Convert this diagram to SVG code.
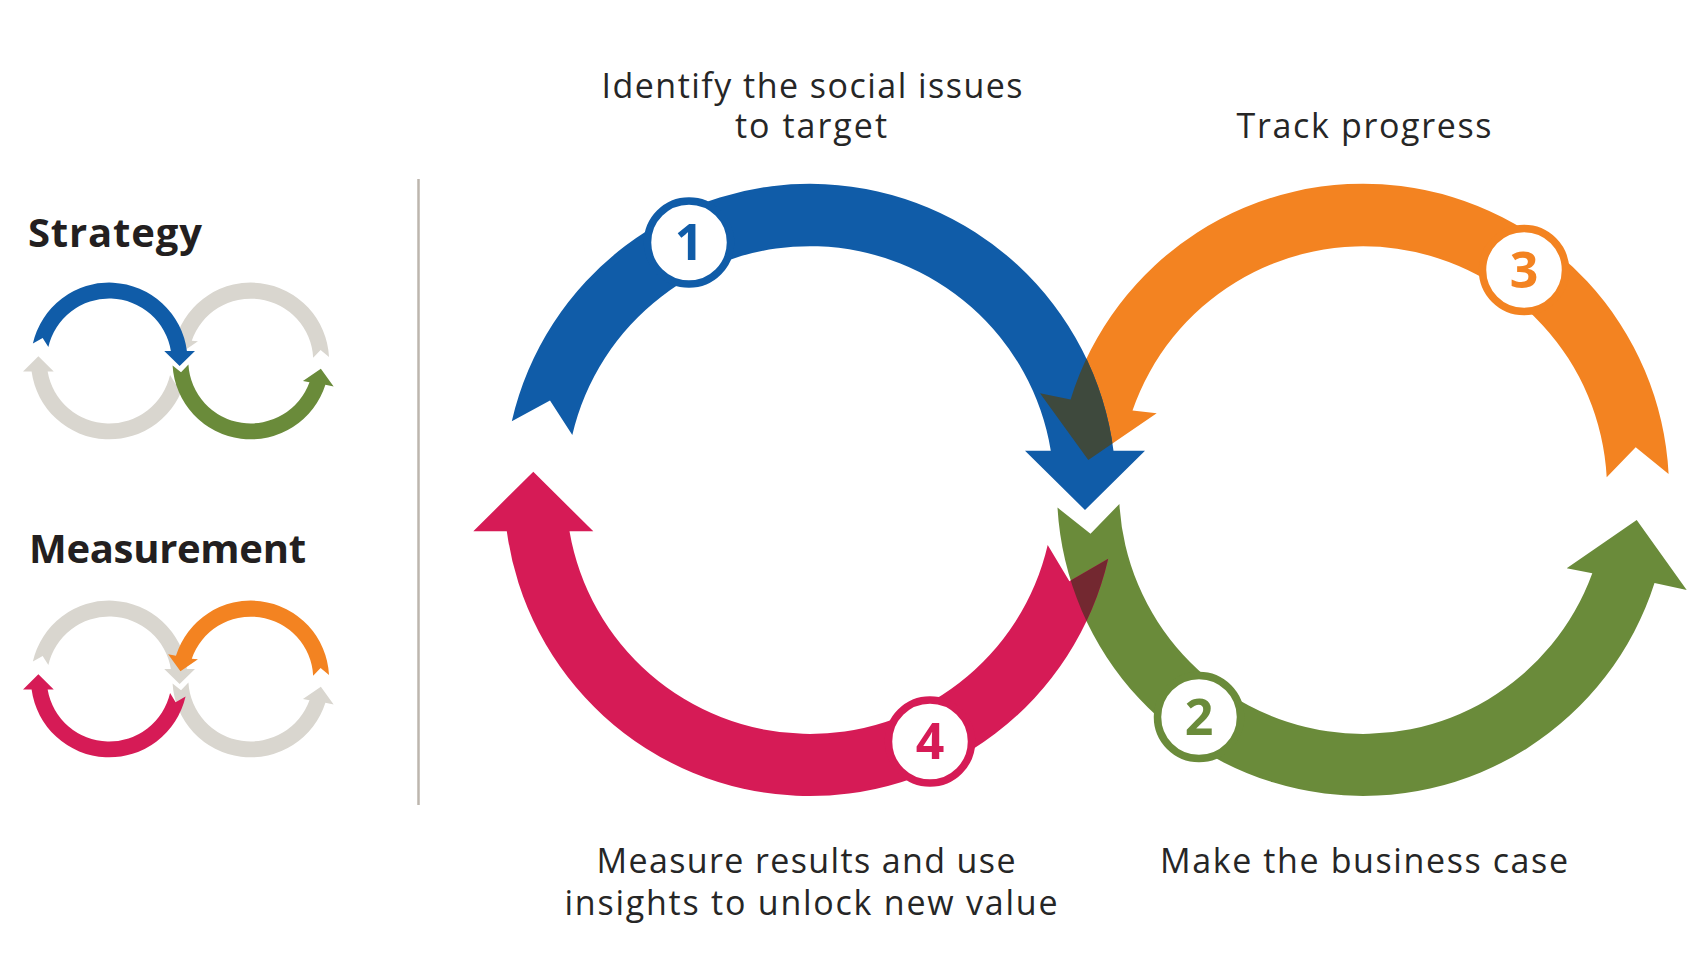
<svg xmlns="http://www.w3.org/2000/svg" xmlns:xlink="http://www.w3.org/1999/xlink" width="1700" height="963" viewBox="0 0 1700 963">
<style>
.lbl{font-family:"Open Sans","Liberation Sans",sans-serif;font-size:34px;fill:#262626;text-anchor:middle}
.ttl{font-family:"Open Sans","Liberation Sans",sans-serif;font-weight:700;font-size:40px;fill:#231F20}
.num{font-family:"Open Sans","Liberation Sans",sans-serif;font-weight:700;font-size:50px;text-anchor:middle}
.ring{fill:#FFFFFF;stroke-width:7.5}
</style>
<defs>
<path id="pBlue" d="M 511.8 421.2 A 306 306 0 0 1 1113.5 450.7 L 1145 450.7 L 1085 510 L 1025 450.7 L 1050.8 450.7 A 244 244 0 0 0 572.3 435.1 L 550 400.5 Z"/>
<path id="pRed" d="M 1108.2 558.8 A 306 306 0 0 1 506.8 531.3 L 473.3 531.3 L 533.3 471.7 L 593.3 531.3 L 569.5 531.3 A 244 244 0 0 0 1047.7 544.9 L 1069.4 581.3 Z"/>
<path id="pGreen" d="M 1057.5 507.6 A 306 306 0 0 0 1654.5 583 L 1686.7 590 L 1636.7 520 L 1566.7 568.3 L 1592.3 573.3 A 244 244 0 0 1 1119.4 504 L 1090.5 533.7 Z"/>
<path id="pOrange" d="M 1668.6 474 A 306 306 0 0 0 1070.6 399.5 L 1040 393.3 L 1088.3 460 L 1156.7 413.3 L 1132.5 410.5 A 244 244 0 0 1 1606.7 477.2 L 1635.7 447.3 Z"/>
<clipPath id="cBlue"><use xlink:href="#pBlue" href="#pBlue"/></clipPath>
<clipPath id="cGreen"><use xlink:href="#pGreen" href="#pGreen"/></clipPath>
</defs>
<rect x="0" y="0" width="1700" height="963" fill="#FFFFFF"/>

<g id="legend-strategy">
<text class="ttl" x="28" y="247" textLength="174" lengthAdjust="spacing">Strategy</text>
<g transform="translate(180,361) scale(0.256) translate(-1086.5,-490)">
<use href="#pRed" fill="#D9D6CF"/>
<use href="#pOrange" fill="#D9D6CF"/>
<use href="#pBlue" fill="#105CA8"/>
<use href="#pGreen" fill="#6A8B3A"/>
</g>
</g>

<g id="legend-measurement">
<text class="ttl" x="29" y="563" textLength="277" lengthAdjust="spacing">Measurement</text>
<g transform="translate(180,679) scale(0.256) translate(-1086.5,-490)">
<use href="#pBlue" fill="#D9D6CF"/>
<use href="#pGreen" fill="#D9D6CF"/>
<use href="#pRed" fill="#D61B56"/>
<use href="#pOrange" fill="#F38321"/>
</g>
</g>

<line id="divider" x1="418.5" y1="179" x2="418.5" y2="805" stroke="#BDB6AE" stroke-width="2.5"/>

<g id="connectors">
<use href="#pOrange" fill="#F38321"/>
<use href="#pBlue" fill="#105CA8"/>
<use href="#pGreen" fill="#6A8B3A"/>
<use href="#pRed" fill="#D61B56"/>
<g clip-path="url(#cBlue)"><use href="#pOrange" fill="#3E493D"/></g>
<g clip-path="url(#cGreen)"><use href="#pRed" fill="#732830"/></g>
</g>

<g id="step1">
<circle class="ring" cx="689" cy="242.5" r="41.5" stroke="#105CA8"/>
<text class="num" x="689" y="260" fill="#105CA8">1</text>
<text class="lbl" x="812" y="98" textLength="421" lengthAdjust="spacing">Identify the social issues</text>
<text class="lbl" x="811" y="138" textLength="152" lengthAdjust="spacing">to target</text>
</g>

<g id="step2">
<circle class="ring" cx="1199" cy="717" r="41.5" stroke="#6A8B3A"/>
<text class="num" x="1199" y="734.5" fill="#6A8B3A">2</text>
<text class="lbl" x="1364" y="873" textLength="408" lengthAdjust="spacing">Make the business case</text>
</g>

<g id="step3">
<circle class="ring" cx="1524" cy="270" r="41.5" stroke="#F38321"/>
<text class="num" x="1524" y="287.5" fill="#F38321">3</text>
<text class="lbl" x="1364" y="138" textLength="255" lengthAdjust="spacing">Track progress</text>
</g>

<g id="step4">
<circle class="ring" cx="930" cy="741.5" r="41.5" stroke="#D61B56"/>
<text class="num" x="930" y="759" fill="#D61B56">4</text>
<text class="lbl" x="806" y="873" textLength="419" lengthAdjust="spacing">Measure results and use</text>
<text class="lbl" x="811" y="915" textLength="493" lengthAdjust="spacing">insights to unlock new value</text>
</g>
</svg>
